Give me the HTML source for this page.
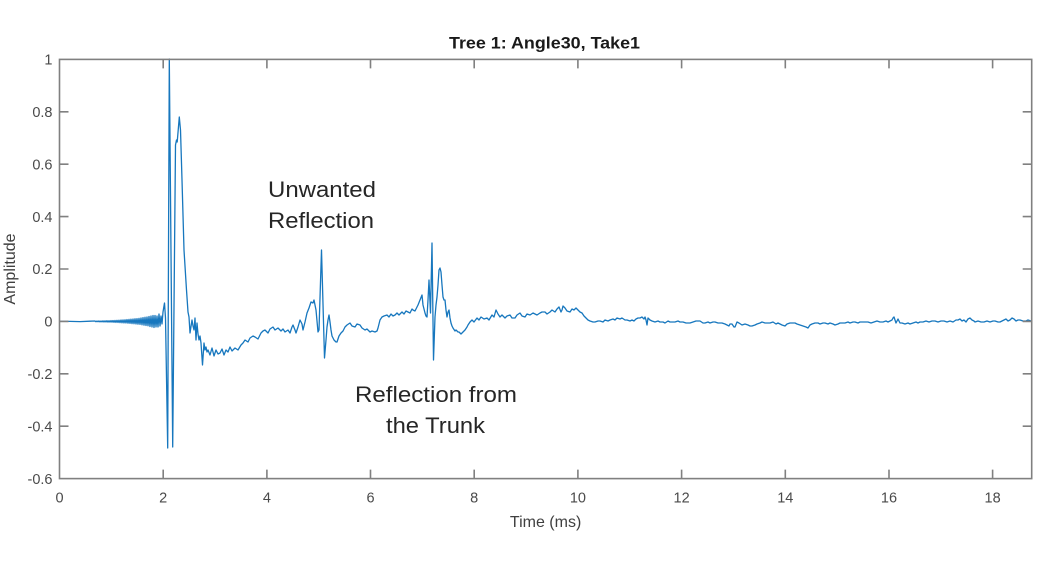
<!DOCTYPE html>
<html>
<head>
<meta charset="utf-8">
<style>
html,body{margin:0;padding:0;background:#fff;}
svg{display:block;}
</style>
</head>
<body>
<svg width="1041" height="585" viewBox="0 0 1041 585" xmlns="http://www.w3.org/2000/svg">
<rect width="1041" height="585" fill="#fff"/>
<!-- signal -->
<path fill="none" stroke="#1777BE" stroke-width="1.3" stroke-linejoin="round" d="M59.5,321.4 L70,321.4 L80,321.6 L90,321.2 L95,321 L96,321.8 L97,321 L98,321.8 L99,320.9 L100,321.9 L101,320.9 L102,321.9 L103,320.8 L104,322 L105,320.8 L106,322 L107,320.7 L108,322.1 L109,320.7 L110,322.1 L111,320.6 L112,322.2 L113,320.5 L114,322.3 L115,320.4 L116,322.4 L117,320.3 L118,322.5 L119,320.2 L120,322.6 L121,320 L122,322.8 L123,319.9 L124,322.9 L125,319.8 L126,323 L127,319.6 L128,323.2 L129,319.4 L130,323.4 L131,319.2 L132,323.6 L133,319 L134,323.8 L135,318.8 L136,324 L137,318.6 L138,324.2 L139,318.4 L140,324.4 L141,318 L142,324.8 L143,317.6 L144,325.2 L145,317.3 L146,325.5 L147,317 L148,325.8 L149,316.5 L150,326.5 L151,316 L152,327 L153,315.5 L154,327.5 L155,315.5 L156,327 L157,316 L158,327 L159,314 L160,326 L161,316 L162,324 L163,312 L164.5,303 L165.5,318 L167.7,448 L169.3,59 L172.7,447 L175.5,145 L176.5,140 L177.2,142 L179.3,117 L180.5,130 L182,180 L184,250 L186.5,290 L188,312 L189,317 L190,333 L192,320 L193,326 L194,330 L195,318 L196,340 L197,323 L198,334 L199,340 L200,336 L201,343 L202.5,365 L204,343 L205,350 L206,347 L207,352 L208,350 L210,355 L212,348 L214,356 L216,350 L218,354 L220,353 L222,349 L224,355 L226,350 L228,352 L230,347 L232,351 L235,348 L238,350 L241,345 L243,343 L245,340 L248,342 L250,338 L253,336 L255,337 L258,339 L261,333 L263,331 L265,330 L268,333 L270,329 L273,327 L275,330 L278,328 L281,331 L283,329 L285,332 L288,330 L290,333 L292,327 L293,325 L295,330 L296,333 L298,327 L300,320 L302,324 L303,330 L305,322 L307,313 L309,308 L311,302 L313,303 L314,300 L315,305 L316,310 L318,332 L319,330 L321.5,250 L324.5,358 L326,340 L327,327 L328,320 L329,315 L330,322 L331,330 L332,336 L334,340 L336,342 L337,342 L339,336 L341,333 L343,331 L345,327 L347,325 L350,323 L352,326 L355,327 L357,324 L360,325 L362,328 L365,330 L367,329 L370,332 L372,331 L375,332 L377,331 L378,328 L380,320 L382,317 L384,316 L387,315 L389,317 L391,314 L393,316 L395,315 L397,313 L399,315 L402,312 L404,314 L406,311 L408,312 L410,313 L412,309 L413,310 L415,311 L417,307 L418,305 L420,300 L422,295 L423,305 L425,313 L426,316 L427,317 L428,300 L429,280 L430.5,313 L432,243 L433.5,360 L435,317 L436,305 L437,297 L438,285 L439,270 L440,268 L441,272 L442,285 L443,297 L444,300 L445,300 L446,310 L447,317 L448,312 L449,310 L450,318 L451,323 L452,326 L453,328 L455,331 L456,330 L458,332 L459,332 L461,334 L462,333 L464,331 L465,330 L467,327 L468,325 L470,322 L472,320 L474,322 L477,318 L479,320 L481,317 L484,319 L487,318 L489,320 L492,315 L494,317 L496,310 L498,314 L500,317 L502,315 L505,318 L507,316 L510,315 L512,318 L515,318 L517,315 L520,313 L522,316 L525,317 L527,314 L530,315 L533,313 L535,314 L537,315 L540,313 L542,312 L545,312 L547,314 L550,312 L552,310 L555,312 L557,309 L559,307 L561,312 L562,310 L563,306 L565,308 L567,311 L570,312 L572,309 L574,310 L576,308 L578,310 L580,312 L582,313 L584,316 L586,318 L588,320 L590,321 L593,322 L595,322 L598,321 L600,321 L603,322 L605,320 L608,321 L610,320 L613,319 L615,320 L617,318 L620,319 L622,318 L625,320 L627,320 L630,321 L632,320 L634,321 L636,319 L638,318 L640,318 L642,317 L644,319 L645,317 L646,320 L647,325 L648,318 L650,320 L652,321 L655,322 L658,321 L660,322 L663,322 L665,323 L668,321 L670,322 L673,322 L675,322 L678,321 L680,322 L683,322 L686,323 L690,323 L693,322 L696,321 L700,321 L703,323 L705,323 L708,322 L710,323 L713,322 L715,322 L718,323 L722,323 L725,324 L727,325 L729,326 L730,324 L732,324 L734,327 L735,327 L737,322 L739,323 L742,325 L745,324 L748,325 L750,326 L752,326 L755,325 L757,324 L760,323 L762,322 L765,323 L767,323 L770,323 L773,322 L776,324 L778,323 L780,324 L782,325 L785,326 L787,324 L790,323 L792,323 L795,323 L797,324 L800,325 L803,326 L806,327 L808,328 L810,325 L812,324 L815,323 L818,323 L820,324 L823,323 L825,323 L828,324 L830,323 L833,324 L835,325 L838,324 L840,323 L843,323 L845,323 L848,322 L850,323 L853,322 L855,322 L858,323 L860,322 L863,322 L865,322 L868,322 L871,323 L874,322 L877,321 L880,322 L883,322 L886,321 L888,322 L890,321 L892,320 L893,318 L894,317 L895,320 L896,323 L897,321 L898,319 L899,321 L900,323 L902,323 L905,324 L908,323 L910,324 L913,323 L916,322 L918,323 L920,322 L923,322 L926,321 L929,322 L932,321 L935,321 L938,322 L941,321 L944,321 L947,322 L950,321 L953,322 L956,320 L958,320 L960,319 L962,321 L964,320 L966,322 L968,319 L970,318 L972,320 L974,321 L975,322 L978,321 L981,322 L984,322 L987,321 L990,322 L993,321 L995,321 L998,322 L1000,322 L1002,321 L1004,320 L1006,319 L1008,321 L1010,320 L1012,318 L1014,319 L1016,321 L1018,320 L1020,320 L1023,321 L1026,321 L1028,320 L1031,321"/>

<!-- axes box -->
<g stroke="#808080" stroke-width="1.6" fill="none">
<rect x="59.5" y="59.4" width="972.2" height="419.2"/>
<path d="M163.2,478.6V469.6 M266.9,478.6V469.6 M370.5,478.6V469.6 M474.2,478.6V469.6 M577.9,478.6V469.6 M681.6,478.6V469.6 M785.3,478.6V469.6 M889,478.6V469.6 M992.6,478.6V469.6
M163.2,59.4V68.4 M266.9,59.4V68.4 M370.5,59.4V68.4 M474.2,59.4V68.4 M577.9,59.4V68.4 M681.6,59.4V68.4 M785.3,59.4V68.4 M889,59.4V68.4 M992.6,59.4V68.4"/>
<path d="M59.5,111.8H68.5 M59.5,164.2H68.5 M59.5,216.6H68.5 M59.5,269H68.5 M59.5,321.4H68.5 M59.5,373.8H68.5 M59.5,426.2H68.5
M1031.7,111.8H1022.7 M1031.7,164.2H1022.7 M1031.7,216.6H1022.7 M1031.7,269H1022.7 M1031.7,321.4H1022.7 M1031.7,373.8H1022.7 M1031.7,426.2H1022.7"/>
</g>

<!-- y tick labels -->
<g font-family="Liberation Sans, sans-serif" font-size="14.5" fill="#4a4a4a" text-anchor="end">
<text x="52.5" y="64.6">1</text>
<text x="52.5" y="117">0.8</text>
<text x="52.5" y="169.4">0.6</text>
<text x="52.5" y="221.8">0.4</text>
<text x="52.5" y="274.2">0.2</text>
<text x="52.5" y="326.6">0</text>
<text x="52.5" y="379">-0.2</text>
<text x="52.5" y="431.4">-0.4</text>
<text x="52.5" y="483.8">-0.6</text>
</g>

<!-- x tick labels -->
<g font-family="Liberation Sans, sans-serif" font-size="14.5" fill="#4a4a4a" text-anchor="middle">
<text x="59.5" y="502.5">0</text>
<text x="163.2" y="502.5">2</text>
<text x="266.9" y="502.5">4</text>
<text x="370.5" y="502.5">6</text>
<text x="474.2" y="502.5">8</text>
<text x="577.9" y="502.5">10</text>
<text x="681.6" y="502.5">12</text>
<text x="785.3" y="502.5">14</text>
<text x="889" y="502.5">16</text>
<text x="992.6" y="502.5">18</text>
</g>

<!-- axis labels -->
<text x="545.6" y="527" font-family="Liberation Sans, sans-serif" font-size="16" fill="#404040" text-anchor="middle">Time (ms)</text>
<text transform="translate(15,269) rotate(-90)" font-family="Liberation Sans, sans-serif" font-size="16" fill="#404040" text-anchor="middle">Amplitude</text>

<!-- title -->
<text x="449" y="48.5" font-family="Liberation Sans, sans-serif" font-weight="bold" font-size="16.5" fill="#1a1a1a" textLength="191" lengthAdjust="spacingAndGlyphs">Tree 1: Angle30, Take1</text>

<!-- annotations -->
<g font-family="Liberation Sans, sans-serif" font-size="22" fill="#262626">
<text x="268" y="197" textLength="108" lengthAdjust="spacingAndGlyphs">Unwanted</text>
<text x="268" y="228" textLength="106" lengthAdjust="spacingAndGlyphs">Reflection</text>
<text x="355" y="402" textLength="162" lengthAdjust="spacingAndGlyphs">Reflection from</text>
<text x="386" y="433" textLength="99" lengthAdjust="spacingAndGlyphs">the Trunk</text>
</g>
</svg>
</body>
</html>
